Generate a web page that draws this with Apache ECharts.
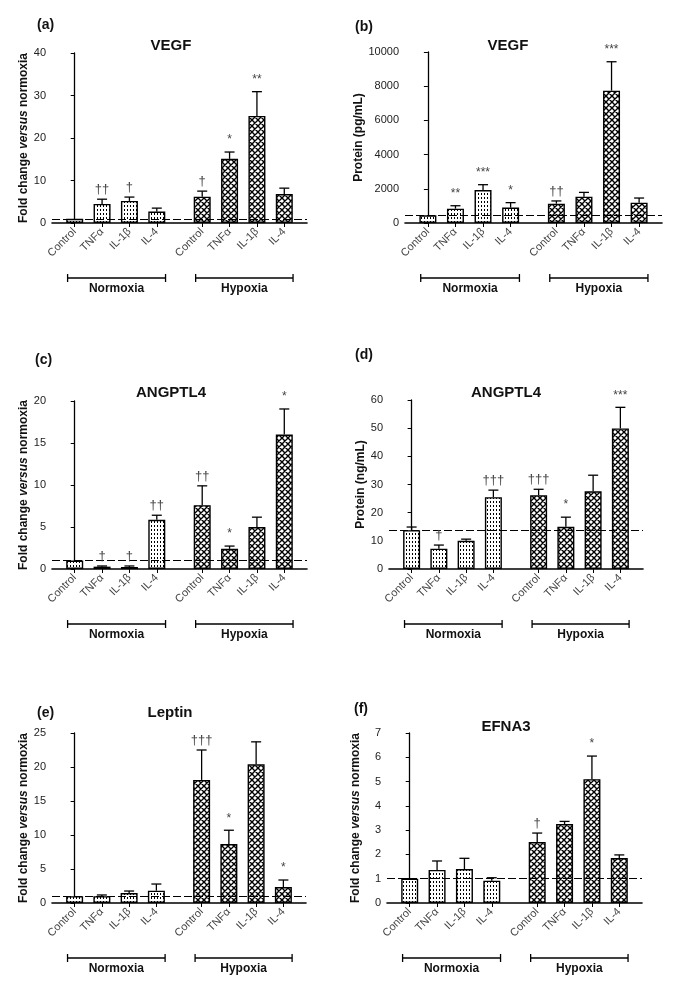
<!DOCTYPE html>
<html><head><meta charset="utf-8">
<script src="https://cdn.jsdelivr.net/npm/echarts@6/dist/echarts.min.js"></script>
<style>html,body{margin:0;padding:0;background:#fff}#c{width:673px;height:986px}</style>
</head><body><div id="c"></div>
<script>
// ---- Data ----
const categories = ['Control', 'TNFα', 'IL-1β', 'IL-4', 'Control', 'TNFα', 'IL-1β', 'IL-4'];
const groupNames = ['Normoxia', 'Hypoxia'];

const panelLetters = ['(a)', '(b)', '(c)', '(d)', '(e)', '(f)'];
const panelTitles = ['VEGF', 'VEGF', 'ANGPTL4', 'ANGPTL4', 'Leptin', 'EFNA3'];
const yNames = ['fold', 'protein (pg/mL)', 'fold', 'protein (ng/mL)', 'fold', 'fold'];

const vegfFold = [1.0, 4.5, 5.2, 2.7, 6.2, 15.1, 25.2, 6.8];
const vegfFoldErr = [null, 5.6, 6.1, 3.5, 7.5, 16.7, 30.9, 8.2];
const vegfFoldSig = ['', '††', '†', '', '†', '*', '**', ''];

const vegfProt = [450, 840, 1930, 900, 1130, 1540, 7740, 1190];
const vegfProtErr = [null, 1010, 2240, 1190, 1290, 1790, 9430, 1460];
const vegfProtSig = ['', '**', '***', '*', '††', '', '***', ''];

const angFold = [1.0, 0.28, 0.24, 5.85, 7.6, 2.4, 5.0, 16.0];
const angFoldErr = [null, 0.36, 0.36, 6.4, 9.9, 2.73, 6.17, 19.05];
const angFoldSig = ['', '†', '†', '††', '††', '*', '', '*'];

const angProt = [13.8, 7.2, 10.0, 25.5, 26.2, 15.0, 27.6, 49.9];
const angProtErr = [14.9, 8.5, 10.6, 28.0, 28.3, 18.4, 33.3, 57.4];
const angProtSig = ['', '†', '', '†††', '†††', '*', '', '***'];

const leptinFold = [1.0, 1.0, 1.47, 1.81, 18.1, 8.68, 20.4, 2.35];
const leptinFoldErr = [null, 1.18, 1.76, 2.79, 22.5, 10.7, 23.7, 3.38];
const leptinFoldSig = ['', '', '', '', '†††', '*', '', '*'];

const efnaFold = [1.0, 1.36, 1.40, 0.92, 2.51, 3.25, 5.10, 1.85];
const efnaFoldErr = [null, 1.73, 1.84, 1.04, 2.88, 3.36, 6.05, 1.98];
const efnaFoldSig = ['', '', '', '', '†', '', '*', ''];

const refLines = [1, 450, 1, 13.9, 1, 1];
const yMax = [40, 10000, 20, 60, 25, 7];
const yStep = [10, 2000, 5, 10, 5, 1];

// ---- Layout / styling ----
const panels = [
  {v: vegfFold, e: vegfFoldErr, s: vegfFoldSig},
  {v: vegfProt, e: vegfProtErr, s: vegfProtSig},
  {v: angFold, e: angFoldErr, s: angFoldSig},
  {v: angProt, e: angProtErr, s: angProtSig},
  {v: leptinFold, e: leptinFoldErr, s: leptinFoldSig},
  {v: efnaFold, e: efnaFoldErr, s: efnaFoldSig}
];
const grids = [
  {left: 52, top: 53, width: 255, height: 170},
  {left: 405, top: 52, width: 257, height: 171},
  {left: 52, top: 401, width: 255, height: 168},
  {left: 389, top: 400, width: 254, height: 169},
  {left: 52, top: 733, width: 254, height: 170},
  {left: 387, top: 733, width: 255, height: 170}
];
const letterPos = [[37, 18], [355, 20], [35, 353], [355, 348], [37, 706], [354, 702]];
const titlePos = [[171, 38], [508, 38], [171, 385], [506, 385], [170, 705], [506, 719]];
const nameGaps = [22, 38, 22, 22, 22, 25];

const FONT = 'Liberation Sans, Arial, sans-serif';
const GAP = 0.66;
const pos = i => (i < 4 ? i : i + GAP);
const xMin = -0.83, xMax = 7 + GAP + 0.83;

function dotPattern() {
  const c = document.createElement('canvas'); c.width = 3; c.height = 4;
  const g = c.getContext('2d');
  g.fillStyle = '#fff'; g.fillRect(0, 0, 3, 4);
  g.fillStyle = '#000'; g.fillRect(1, 1, 1, 2);
  return c;
}
function crossPattern() {
  const c = document.createElement('canvas'); c.width = 6; c.height = 6;
  const g = c.getContext('2d');
  g.fillStyle = '#fff'; g.fillRect(0, 0, 6, 6);
  g.strokeStyle = '#000'; g.lineWidth = 1.4;
  g.beginPath();
  for (const o of [-6, 0, 6]) {
    g.moveTo(o, 0); g.lineTo(o + 6, 6);
    g.moveTo(o, 6); g.lineTo(o + 6, 0);
  }
  g.stroke();
  return c;
}
const dotFill = {image: dotPattern(), repeat: 'repeat'};
const crossFill = {image: crossPattern(), repeat: 'repeat'};

const option = {
  animation: false,
  backgroundColor: '#fff',
  textStyle: {fontFamily: FONT},
  title: [],
  grid: grids,
  xAxis: [], yAxis: [], series: []
};

panels.forEach((p, k) => {
  option.title.push({
    text: panelLetters[k], left: letterPos[k][0], top: letterPos[k][1], padding: 0,
    textStyle: {fontFamily: FONT, fontSize: 14, fontWeight: 'bold', color: '#111'}
  });
  option.title.push({
    text: panelTitles[k], left: titlePos[k][0], top: titlePos[k][1], padding: 0, textAlign: 'center',
    textStyle: {fontFamily: FONT, fontSize: 15, fontWeight: 'bold', color: '#111'}
  });
  const ticks = categories.map((_, i) => pos(i));
  option.xAxis.push({
    type: 'value', gridIndex: k, min: xMin, max: xMax,
    splitLine: {show: false},
    axisLine: {show: true, onZero: false, lineStyle: {color: '#000', width: 1.6}},
    axisTick: {show: true, customValues: ticks, length: 4, lineStyle: {color: '#000', width: 1}},
    axisLabel: {
      show: true, customValues: ticks, rotate: 45, margin: 7,
      fontFamily: FONT, fontSize: 11, color: '#444',
      formatter: v => { const i = ticks.findIndex(t => Math.abs(t - v) < 0.01); return i >= 0 ? categories[i] : ''; }
    }
  });
  const isFold = yNames[k] === 'fold';
  option.yAxis.push({
    type: 'value', gridIndex: k, min: 0, max: yMax[k], interval: yStep[k],
    splitLine: {show: false},
    axisLine: {show: true, lineStyle: {color: '#000', width: 1.3}},
    axisTick: {show: true, length: 4, lineStyle: {color: '#000', width: 1}},
    axisLabel: {fontFamily: FONT, fontSize: 11, color: '#222', margin: 6, formatter: v => String(v)},
    name: isFold ? 'Fold change {i|versus} normoxia' : (k === 1 ? 'Protein (pg/mL)' : 'Protein (ng/mL)'),
    nameLocation: 'middle', nameGap: nameGaps[k],
    nameTextStyle: {
      fontFamily: FONT, fontSize: 12, fontWeight: 'bold', color: '#111',
      rich: {i: {fontFamily: FONT, fontSize: 12, fontWeight: 'bold', fontStyle: 'italic', color: '#111'}}
    }
  });
  // bars
  option.series.push({
    type: 'bar', xAxisIndex: k, yAxisIndex: k, barWidth: 17,
    data: p.v.map((v, i) => ({
      value: [pos(i), v],
      itemStyle: {color: i < 4 ? dotFill : crossFill, borderColor: '#000', borderWidth: 1.4}
    })),
    markLine: {
      silent: true, symbol: 'none', animation: false,
      label: {show: false},
      lineStyle: {type: [8, 3], color: '#000', width: 1},
      data: [{yAxis: refLines[k]}]
    }
  });
  // error bars + significance marks
  option.series.push({
    type: 'custom', xAxisIndex: k, yAxisIndex: k, clip: false, z: 5,
    data: p.v.map((v, i) => [pos(i), v, p.e[i] == null ? v : p.e[i], p.e[i] == null ? 0 : 1, i]),
    renderItem: (params, api) => {
      const x = api.value(0), v = api.value(1), e = api.value(2), has = api.value(3);
      const i = api.value(4);
      const a = api.coord([x, v]), b = api.coord([x, e]);
      const children = [];
      if (has) {
        children.push({type: 'line', shape: {x1: a[0], y1: a[1], x2: b[0], y2: b[1]}, style: {stroke: '#000', lineWidth: 1.3}});
        children.push({type: 'line', shape: {x1: b[0] - 5, y1: b[1], x2: b[0] + 5, y2: b[1]}, style: {stroke: '#000', lineWidth: 1.3}});
      }
      const sig = p.s[i];
      if (sig) {
        const star = sig.indexOf('*') >= 0;
        children.push({type: 'text', style: {
          text: sig, x: b[0], y: b[1] - (star ? 6 : 3), align: 'center', verticalAlign: 'bottom',
          fontFamily: FONT, fontSize: star ? 12 : 13, fill: '#444'
        }});
      }
      return {type: 'group', children};
    }
  });
  // group brackets
  option.series.push({
    type: 'custom', xAxisIndex: k, yAxisIndex: k, clip: false, silent: true,
    data: [[pos(0) - 0.26, pos(3) + 0.32, 0], [pos(4) - 0.24, pos(7) + 0.32, 1]],
    renderItem: (params, api) => {
      const a = api.coord([api.value(0), 0]), b = api.coord([api.value(1), 0]);
      const y = a[1] + 55;
      const st = {stroke: '#000', lineWidth: 1.3};
      return {type: 'group', children: [
        {type: 'line', shape: {x1: a[0], y1: y, x2: b[0], y2: y}, style: st},
        {type: 'line', shape: {x1: a[0], y1: y - 4, x2: a[0], y2: y + 4}, style: st},
        {type: 'line', shape: {x1: b[0], y1: y - 4, x2: b[0], y2: y + 4}, style: st},
        {type: 'text', style: {text: groupNames[api.value(2)], x: (a[0] + b[0]) / 2, y: y + 11,
          align: 'center', verticalAlign: 'middle', fontFamily: FONT, fontSize: 12, fontWeight: 'bold', fill: '#111'}}
      ]};
    }
  });
});

const chart = echarts.init(document.getElementById('c'), null, {renderer: 'canvas'});
chart.setOption(option);
</script></body></html>
